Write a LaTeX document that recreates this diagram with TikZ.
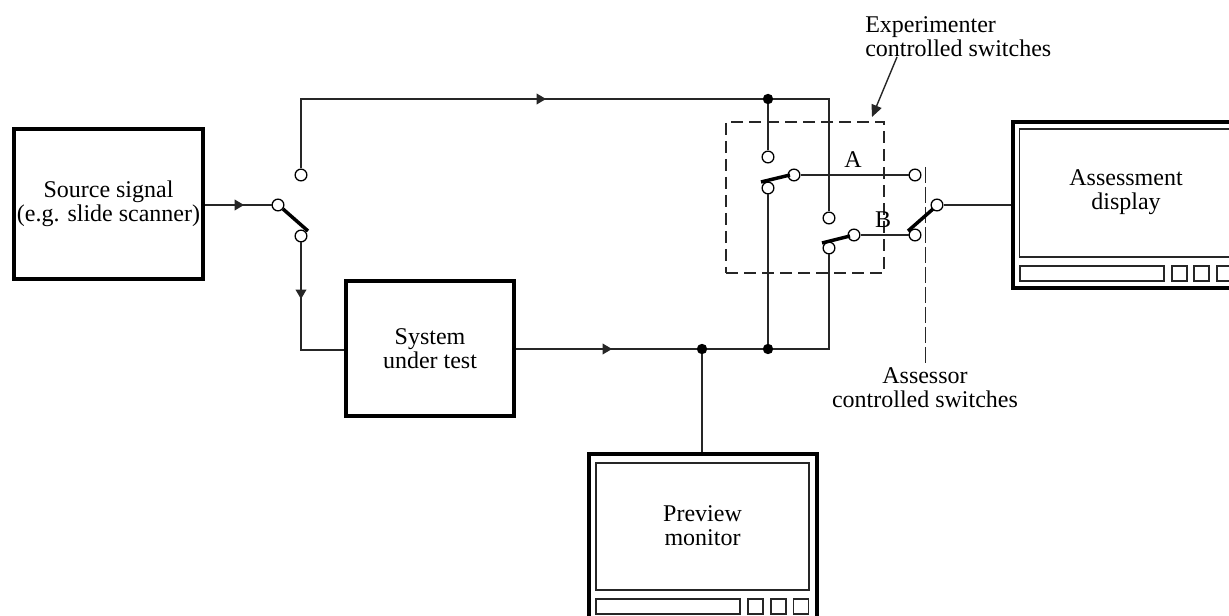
\documentclass[tikz,border=0pt]{standalone}
\usepackage{fontspec}
\setmainfont{Liberation Serif}
\usetikzlibrary{arrows.meta}
\tikzset{
  x=0.75pt,y=-0.75pt,
  wire/.style={line width=1.05pt,draw=black!85},
  block/.style={draw=black,line width=2.3pt,fill=white,inner sep=0pt,align=center,font=\fontsize{18}{18}\selectfont},
  outer/.style={draw=black,line width=2.3pt,fill=white,inner sep=0pt},
  panel/.style={draw=black!85,line width=1pt,fill=white,inner sep=0pt},
  term/.style={circle,draw=black,line width=0.95pt,fill=white,minimum size=8.8pt,inner sep=0pt},
  jdot/.style={circle,fill=black,minimum size=7.8pt,inner sep=0pt},
  blade/.style={line width=2.6pt,draw=black,line cap=butt},
  label/.style={inner sep=0pt,align=center,font=\fontsize{18}{18}\selectfont},
  flow/.style={wire,-{Triangle[length=7pt,width=8pt]}},
}
\begin{document}
\begin{tikzpicture}
\useasboundingbox (0,0) rectangle (1229,616);
\clip (0,0) rectangle (1229,616);
% blocks
\node[block,minimum width=141.75pt,minimum height=112.5pt] (source) at (108.5,204) {Source signal\\(e.g. slide scanner)};
\node[block,minimum width=126pt,minimum height=101.25pt] (sut) at (430,348.5) {System\\under test};
% preview monitor
\node[outer,minimum width=171pt,minimum height=123pt] (prevout) at (703,536) {};
\node[panel,minimum width=159.75pt,minimum height=95.25pt] (prevscr) at (702.5,526.5) {};
\node[label] (prevtxt) at (702.5,526) {Preview\\monitor};
\node[panel,minimum width=108pt,minimum height=11.25pt] (prevbar) at (668,606.5) {};
\node[panel,minimum width=11.25pt,minimum height=11.25pt] (prevb1) at (755.5,606.5) {};
\node[panel,minimum width=11.25pt,minimum height=11.25pt] (prevb2) at (778.5,606.5) {};
\node[panel,minimum width=11.25pt,minimum height=11.25pt] (prevb3) at (801,606.5) {};
% assessment monitor
\node[outer,minimum width=171pt,minimum height=124.5pt] (assout) at (1127,205) {};
\node[panel,minimum width=159.75pt,minimum height=96pt] (assscr) at (1126,193) {};
\node[label] (asstxt) at (1126,192) {Assessment\\display};
\node[panel,minimum width=108pt,minimum height=11.25pt] (assbar) at (1092,273.5) {};
\node[panel,minimum width=11.25pt,minimum height=11.25pt] (assb1) at (1179.5,273.5) {};
\node[panel,minimum width=11.25pt,minimum height=11.25pt] (assb2) at (1201.5,273.5) {};
\node[panel,minimum width=11.25pt,minimum height=11.25pt] (assb3) at (1224.5,273.5) {};
% terminals
\node[term] (s1in) at (278,205) {};
\node[term] (s1up) at (301,175) {};
\node[term] (s1dn) at (301,236) {};
\node[term] (aup) at (768,157) {};
\node[term] (apole) at (768,188) {};
\node[term] (aout) at (794,175) {};
\node[term] (aend) at (915,175) {};
\node[term] (bup) at (829,218) {};
\node[term] (bpole) at (829,248) {};
\node[term] (bout) at (854,235) {};
\node[term] (bend) at (915,235) {};
\node[term] (cout) at (937,205) {};
% junctions
\node[jdot] (jtop) at (768,99) {};
\node[jdot] (jprev) at (702,349) {};
\node[jdot] (jmid) at (768,349) {};
% free points
\coordinate (a1) at (244,205);
\coordinate (a2) at (301,299);
\coordinate (a3) at (612,349);
\coordinate (a4) at (546,99);
\coordinate (tl) at (301,99);
\coordinate (tr) at (829,99);
\coordinate (br) at (829,349);
\coordinate (dl) at (301,350);
% dashed box
\node[draw=black!85,line width=1.05pt,dash pattern=on 9pt off 4.5pt,minimum width=118.5pt,minimum height=113.25pt,inner sep=0pt] (expbox) at (805,197.5) {};
\coordinate (ass1) at (925,167);
\coordinate (ass2) at (925,365);
\draw[line width=0.6pt,draw=black!85,dash pattern=on 12pt off 3pt] (ass1) -- (ass2);
% wires
\draw[wire] (source.east |- s1in) -- (s1in);
\draw[flow] (source.east |- s1in) -- (a1);
\draw[wire] (s1dn) -- (dl) -- (sut.west |- dl);
\draw[flow] (s1dn) -- (a2);
\draw[wire] (s1up) -- (tl) -- (jtop);
\draw[flow] (tl) -- (a4);
\draw[wire] (jtop) -- (tr) -- (bup);
\draw[wire] (jtop) -- (aup);
\draw[wire] (sut.east |- a3) -- (jprev);
\draw[flow] (sut.east |- a3) -- (a3);
\draw[wire] (jprev) -- (jmid);
\draw[wire] (jmid) -- (br) -- (bpole);
\draw[wire] (jmid) -- (apole);
\draw[wire] (jprev) -- (prevout.north -| jprev);
\draw[wire] (aout) -- (aend);
\draw[wire] (bout) -- (bend);
\draw[wire] (cout) -- (assout.west |- cout);
% switch blades
\draw[blade] ([shift={(5,4)}]s1in.center) -- ([shift={(7,-5)}]s1dn.center);
\draw[blade] ([shift={(-7,-6)}]apole.center) -- ([shift={(-4,0)}]aout.center);
\draw[blade] ([shift={(-7,-5)}]bpole.center) -- ([shift={(-4,1)}]bout.center);
\draw[blade] ([shift={(-7,-4)}]bend.center) -- ([shift={(-4,4)}]cout.center);
% labels
\node[label] (lA) at (853,160) {A};
\node[label] (lB) at (883,220) {B};
\node[label,align=left,anchor=west] (lexp) at (865,37) {Experimenter\\controlled switches};
\coordinate (exparrow) at (897,57);
\draw[wire,-{Triangle[length=9pt,width=8pt]}] (exparrow) -- (872,117);
\node[label] (lass) at (925,388) {Assessor\\controlled switches};
\end{tikzpicture}
\end{document}
